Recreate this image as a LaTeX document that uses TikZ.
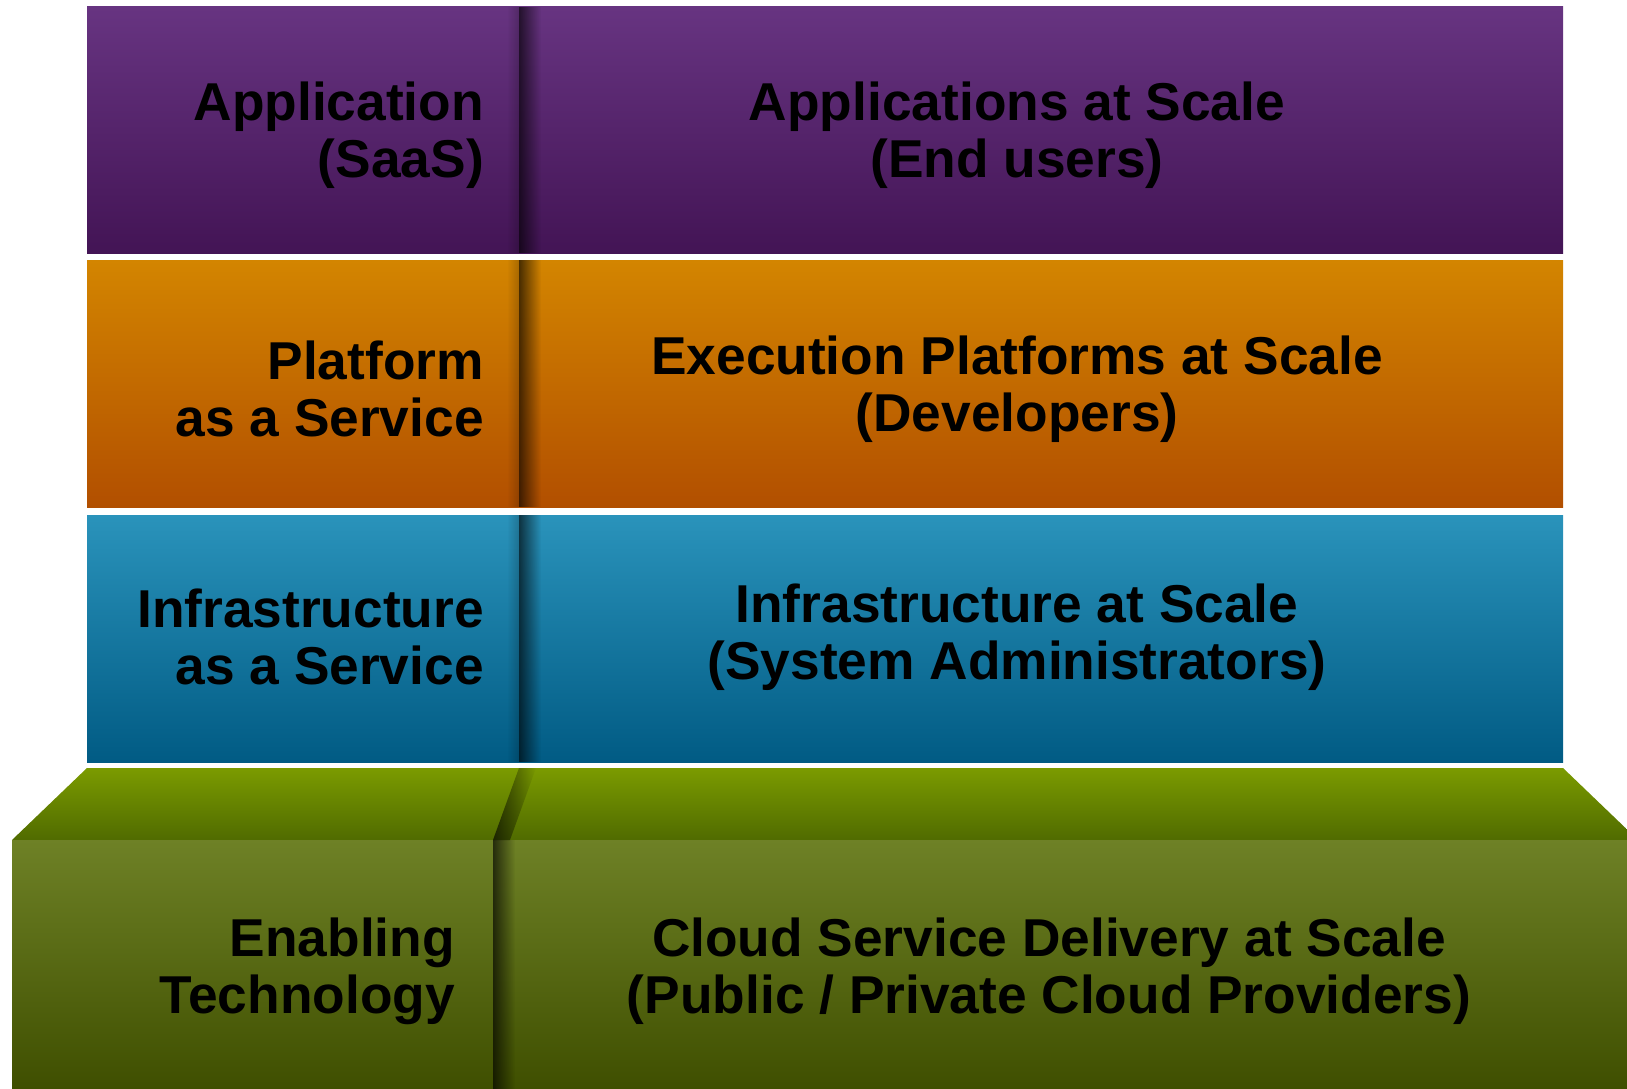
\documentclass[tikz,border=0pt]{standalone}
\usepackage{fontspec}
\setmainfont{Liberation Sans}
\usetikzlibrary{fadings}

\definecolor{saasTop}{HTML}{673481}
\definecolor{saasBot}{HTML}{431455}
\definecolor{paasTop}{HTML}{D38500}
\definecolor{paasBot}{HTML}{B24F00}
\definecolor{iaasTop}{HTML}{2A93BB}
\definecolor{iaasBot}{HTML}{015B84}
\definecolor{lidTop}{HTML}{7B9B00}
\definecolor{lidBot}{HTML}{506B00}
\definecolor{techTop}{HTML}{6E8126}
\definecolor{techBot}{HTML}{3F4F00}

\tikzfading[name=shadow right, left color=transparent!35, right color=transparent!100]
\tikzfading[name=shadow left, left color=transparent!100, right color=transparent!80]

\tikzset{
  layer text/.style={font=\fontsize{53.3}{57}\selectfont\bfseries, text=black, inner sep=0pt},
  kind text/.style={layer text, anchor=east, align=right},
  scale text/.style={layer text, anchor=center, align=center}
}

\begin{document}
\begin{tikzpicture}[x=1pt, y=-1pt]
\useasboundingbox (0,0) rectangle (1627,1089);
\clip (0,0) rectangle (1627,1089);

\shade[top color=saasTop, bottom color=saasBot] (87,7) rectangle (1563,253);
\shade[top color=paasTop, bottom color=paasBot] (87,260) rectangle (1563,507);
\shade[top color=iaasTop, bottom color=iaasBot] (87,515) rectangle (1563,762);

\foreach \ya/\yb in {7/253, 260/507, 515/762} {
  \fill[black, path fading=shadow right] (519,\ya) rectangle (541,\yb);
  \fill[black, path fading=shadow left] (507,\ya) rectangle (519,\yb);
}

% base block
\shade[top color=lidTop, bottom color=lidBot] (87,768) -- (1563,768) -- (1638,840) -- (12,840) -- cycle;
\shade[top color=techTop, bottom color=techBot] (12,840) rectangle (1627,1089);
\fill[black, path fading=shadow right] (519,768) -- (536,768) -- (510,840) -- (493,840) -- cycle;
\fill[black, path fading=shadow right] (493,840) rectangle (515,1089);

\node[kind text] (saas) at (484,135) {Application\\(SaaS)};
\node[scale text] (saasScale) at (1017,135) {Applications at Scale\\(End users)};
\node[kind text] (paas) at (484,389) {Platform\\as a Service};
\node[scale text] (paasScale) at (1017,389) {Execution Platforms at Scale\\(Developers)};
\node[kind text] (iaas) at (484,637) {Infrastructure\\as a Service};
\node[scale text] (iaasScale) at (1017,637) {Infrastructure at Scale\\(System Administrators)};
\node[kind text] (tech) at (455,971) {Enabling\\Technology};
\node[scale text] (techScale) at (1049,971) {Cloud Service Delivery at Scale\\(Public / Private Cloud Providers)};
\end{tikzpicture}
\end{document}
